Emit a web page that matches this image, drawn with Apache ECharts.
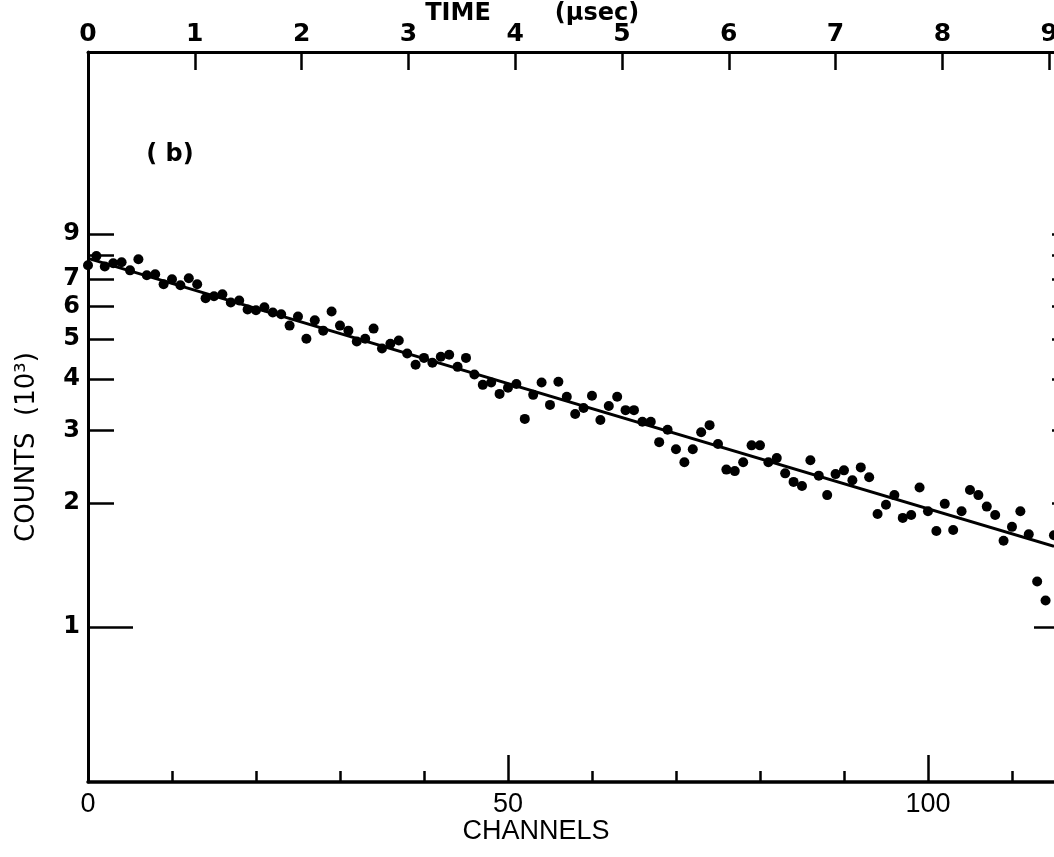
<!DOCTYPE html>
<html>
<head>
<meta charset="utf-8">
<script src="https://cdn.jsdelivr.net/npm/echarts@6/dist/echarts.min.js"></script>
<style>html,body{margin:0;padding:0;background:#fff}#c{width:1054px;height:857px}</style>
</head>
<body>
<div id="c"></div>
<script>
// ---- data ----
const channels = [0,1,2,3,4,5,6,7,8,9,10,11,12,13,14,15,16,17,18,19,20,21,22,23,24,25,26,27,28,29,
  30,31,32,33,34,35,36,37,38,39,40,41,42,43,44,45,46,47,48,49,50,51,52,53,54,55,56,57,58,59,
  60,61,62,63,64,65,66,67,68,69,70,71,72,73,74,75,76,77,78,79,80,81,82,83,84,85,86,87,88,89,
  90,91,92,93,94,95,96,97,98,99,100,101,102,103,104,105,106,107,108,109,110,111,112,113,114,115];
const counts = [7.55,7.95,7.50,7.64,7.68,7.34,7.81,7.14,7.18,6.79,6.98,6.75,7.02,6.79,6.28,6.35,6.42,6.13,6.20,5.90,
  5.87,5.97,5.80,5.74,5.39,5.67,5.01,5.55,5.24,5.83,5.39,5.24,4.93,5.01,5.30,4.74,4.87,4.96,4.61,4.33,
  4.50,4.38,4.53,4.58,4.28,4.50,4.10,3.87,3.92,3.68,3.81,3.89,3.20,3.66,3.92,3.46,3.94,3.62,3.29,3.40,
  3.64,3.18,3.44,3.62,3.36,3.36,3.15,3.15,2.81,3.01,2.70,2.51,2.70,2.97,3.09,2.78,2.41,2.39,2.51,2.76,
  2.76,2.51,2.57,2.36,2.25,2.20,2.54,2.33,2.09,2.35,2.40,2.27,2.44,2.31,1.88,1.98,2.09,1.84,1.87,2.18,
  1.91,1.71,1.99,1.72,1.91,2.15,2.09,1.96,1.87,1.62,1.75,1.91,1.68,1.29,1.16,1.67];
const fitChannels = [0, 115];
const fitCounts = [7.85, 1.57];
const countTickValues = [2,3,4,5,6,7,8,9];
const countLabelValues = [2,3,4,5,6,7,9];
const countUnitTick = [1];
const channelRange = [0, 115.48];
const timeRange = [0, 9.083];
const countRange = [0.4205, 24.87];

// ---- chart ----
const L = v => Math.log10(v);
const black = '#000';
const scatterData = channels.map((c, i) => [c, counts[i]]);
const fitData = fitChannels.map((c, i) => [c, fitCounts[i]]);

function tickAxis(position, ticks, len, labels) {
  return {
    type: 'value', position: position,
    min: L(countRange[0]), max: L(countRange[1]),
    axisLine: {show: false, onZero: false},
    splitLine: {show: false},
    axisTick: {show: true, inside: true, length: len, customValues: ticks.map(L),
               lineStyle: {color: black, width: 2.5}},
    axisLabel: labels ? {show: true, customValues: labels.map(L),
               formatter: v => String(Math.round(Math.pow(10, v))),
               margin: 8, color: black, fontFamily: 'DejaVu Sans', fontWeight: 'bold', fontSize: 24}
             : {show: false}
  };
}

const chart = echarts.init(document.getElementById('c'), null, {renderer: 'canvas'});
chart.setOption({
  animation: false,
  backgroundColor: '#fff',
  grid: {left: 88, top: 52, width: 970, bottom: 75, containLabel: false, outerBoundsMode: 'none'},
  xAxis: [
    {type: 'value', position: 'bottom', min: channelRange[0], max: channelRange[1], interval: 10,
     axisLine: {onZero: false, lineStyle: {color: black, width: 3.5}},
     axisTick: {inside: true, length: 11, lineStyle: {color: black, width: 2.5}},
     axisLabel: {formatter: v => (v % 50 === 0 ? String(v) : ''), margin: 9, color: black,
                 fontFamily: 'Liberation Sans', fontSize: 27},
     splitLine: {show: false}},
    {type: 'value', position: 'bottom', min: channelRange[0], max: channelRange[1], interval: 50,
     axisLine: {show: false, onZero: false},
     axisTick: {inside: true, length: 27, lineStyle: {color: black, width: 2.5}},
     axisLabel: {show: false}, splitLine: {show: false}},
    {type: 'value', position: 'top', min: timeRange[0], max: timeRange[1], interval: 1,
     axisLine: {onZero: false, lineStyle: {color: black, width: 3}},
     axisTick: {inside: true, length: 18, lineStyle: {color: black, width: 2.5}},
     axisLabel: {formatter: v => (Math.abs(v - Math.round(v)) < 1e-6 ? String(Math.round(v)) : ''),
                 margin: 5, color: black, fontFamily: 'DejaVu Sans', fontWeight: 'bold', fontSize: 25},
     splitLine: {show: false}}
  ],
  yAxis: [
    {type: 'log', position: 'left', min: countRange[0], max: countRange[1],
     axisLine: {show: true, onZero: false, lineStyle: {color: black, width: 3}},
     axisTick: {show: false}, axisLabel: {show: false}, splitLine: {show: false}, minorTick: {show: false}},
    tickAxis('left', countTickValues, 26, countLabelValues),
    tickAxis('left', countUnitTick, 45, countUnitTick),
    tickAxis('right', countTickValues, 6, null),
    tickAxis('right', countUnitTick, 24, null)
  ],
  graphic: [
    {type: 'text', x: 458, y: 14, style: {text: 'TIME', fill: black,
      font: 'bold 24px "DejaVu Sans"', textAlign: 'center', textVerticalAlign: 'middle'}},
    {type: 'text', x: 597, y: 14, style: {text: '(\u00b5sec)', fill: black,
      font: 'bold 24px "DejaVu Sans"', textAlign: 'center', textVerticalAlign: 'middle'}},
    {type: 'text', x: 536, y: 832, style: {text: 'CHANNELS', fill: black,
      font: '27px "Liberation Sans"', textAlign: 'center', textVerticalAlign: 'middle'}},
    {type: 'text', x: 27, y: 447, rotation: Math.PI / 2, style: {text: 'COUNTS  (10\u00b3)', fill: black,
      font: '26px "DejaVu Sans"', textAlign: 'center', textVerticalAlign: 'middle'}},
    {type: 'text', x: 170, y: 155, style: {text: '( b)', fill: black,
      font: 'bold 24px "DejaVu Sans"', textAlign: 'center', textVerticalAlign: 'middle'}}
  ],
  series: [
    {type: 'line', xAxisIndex: 0, yAxisIndex: 0, data: fitData, symbol: 'none',
     lineStyle: {color: black, width: 3}, silent: true, z: 2},
    {type: 'scatter', xAxisIndex: 0, yAxisIndex: 0, data: scatterData, symbol: 'circle', symbolSize: 10,
     itemStyle: {color: black, opacity: 1}, silent: true, z: 3}
  ]
});
</script>
</body>
</html>
